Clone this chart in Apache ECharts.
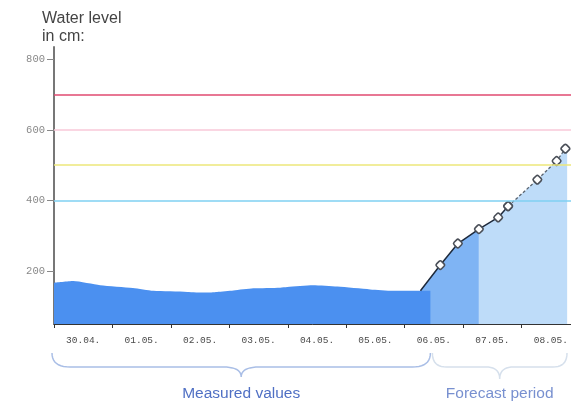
<!DOCTYPE html>
<html>
<head>
<meta charset="utf-8">
<script src="https://cdn.jsdelivr.net/npm/echarts@6/dist/echarts.min.js"></script>
<style>html,body{margin:0;padding:0;background:#fff}#c{width:571px;height:403px}</style>
</head>
<body>
<div id="c"></div>
<script>
// Categories (day labels)
const dayLabels = ['30.04.','01.05.','02.05.','03.05.','04.05.','05.05.','06.05.','07.05.','08.05.'];
// Measured values: time in days from 30.04. 00:00, level in cm
const measDays   = [0.00,0.33,0.79,1.35,1.70,2.28,2.59,2.79,3.07,3.41,3.87,3.99,4.43,4.85,5.41,5.80,6.27,6.44];
const measLevels = [167, 172, 160, 152, 144, 141, 139, 141, 145, 151, 153, 155, 160, 156, 148, 144, 144, 144];
// Forecast values
const fcDays   = [6.27,6.61,6.91,7.27,7.60,7.77,8.27,8.60,8.75];
const fcLevels = [144, 217, 278, 319, 352, 384, 459, 512, 547];
// Forecast shading end
const shadeEndDay = 8.78, shadeEndLevel = 553;
// Threshold levels
const thresholds = [700, 600, 500, 400];
const thresholdColors = ['#e04a70', '#f9c9d8', '#ede77a', '#7fd0f2'];
// Y tick labels
const yTicks = [200, 400, 600, 800];

const pairs = (xs, ys) => xs.map((x, i) => [x, ys[i]]);
const meas = pairs(measDays, measLevels);
const fc = pairs(fcDays, fcLevels);
const splitIdx = 3;   // medium/light shading boundary
const dashIdx = 5;    // solid/dashed line boundary

const chart = echarts.init(document.getElementById('c'), null, {renderer: 'canvas'});
const markerStyle = {color: '#fff', borderColor: '#4a4f58', borderWidth: 1.6};
const option = {
  animation: false,
  backgroundColor: '#fff',
  title: {
    text: 'Water level\nin cm:',
    left: 42, top: 10, padding: 0,
    textStyle: {fontFamily: 'Liberation Sans', fontSize: 16, fontWeight: 'normal', color: '#444', lineHeight: 17.5}
  },
  grid: {left: 54, width: 526, top: 47, bottom: 79, outerBoundsMode: 'none', containLabel: false},
  xAxis: [{
    type: 'value', min: 0, max: 9, interval: 1,
    axisLine: {show: true, lineStyle: {color: '#333', width: 1}},
    axisTick: {show: true, length: 4, lineStyle: {color: '#333'}},
    axisLabel: {show: false},
    splitLine: {show: false}
  }, {
    type: 'category', data: dayLabels, boundaryGap: true, position: 'bottom',
    axisLine: {show: false}, axisTick: {show: false}, splitLine: {show: false},
    axisLabel: {fontFamily: 'Liberation Mono', fontSize: 9.5, color: '#4a4a4a', margin: 11}
  }],
  yAxis: {
    type: 'value', min: 50, max: 835,
    axisLine: {show: true, lineStyle: {color: '#777', width: 2}},
    axisTick: {show: true, length: 7, lineStyle: {color: '#888'}, customValues: yTicks},
    axisLabel: {fontFamily: 'Liberation Mono', fontSize: 10.5, color: '#888', margin: 9, customValues: yTicks},
    splitLine: {show: false}
  },
  series: [
    {
      type: 'line', name: 'fcMedium', data: fc.slice(0, splitIdx + 1), symbol: 'none',
      lineStyle: {width: 0}, areaStyle: {color: '#7fb4f4', opacity: 1, origin: 'start'}, z: 1
    },
    {
      type: 'line', name: 'fcLight', data: fc.slice(splitIdx).concat([[shadeEndDay, shadeEndLevel]]), symbol: 'none',
      lineStyle: {width: 0}, areaStyle: {color: '#bedcf9', opacity: 1, origin: 'start'}, z: 1
    },
    {
      type: 'line', name: 'measured', data: meas, symbol: 'none', smooth: 0.2,
      lineStyle: {width: 0}, areaStyle: {color: '#4b90f0', opacity: 1, origin: 'start'}, z: 2
    },
    {
      type: 'line', name: 'thresholds', data: [], z: 3,
      markLine: {
        silent: true, symbol: 'none', label: {show: false}, animation: false,
        data: thresholds.map((v, i) => ({yAxis: v, lineStyle: {color: thresholdColors[i], width: 1.5, type: 'solid'}}))
      }
    },
    {
      type: 'line', name: 'fcSolid', z: 4,
      data: fc.slice(0, dashIdx + 1).map((p, i) => i === 0 ? {value: p, symbol: 'none'} : p),
      lineStyle: {color: '#1e2a3c', width: 1.5},
      symbol: 'roundRect', symbolSize: 7, symbolRotate: 45, itemStyle: markerStyle
    },
    {
      type: 'line', name: 'fcDashed', data: fc.slice(dashIdx), z: 4,
      lineStyle: {color: '#5a6470', width: 1.3, type: [3, 2]},
      symbol: 'roundRect', symbolSize: 7, symbolRotate: 45, itemStyle: markerStyle
    }
  ]
};
chart.setOption(option);

// annotation braces (sampled as polylines)
function quad(p0, p1, p2, n) {
  const out = [];
  for (let i = 0; i <= n; i++) {
    const t = i / n, u = 1 - t;
    out.push([u*u*p0[0] + 2*u*t*p1[0] + t*t*p2[0], u*u*p0[1] + 2*u*t*p1[1] + t*t*p2[1]]);
  }
  return out;
}
function brace(x1, x2, y0, y1, y2, r) {
  const xm = (x1 + x2) / 2;
  return [].concat(
    quad([x1, y0], [x1, y1], [x1 + r, y1], 10),
    quad([xm - r, y1], [xm, y1], [xm, y2], 10),
    quad([xm, y2], [xm, y1], [xm + r, y1], 10),
    quad([x2 - r, y1], [x2, y1], [x2, y0], 10)
  );
}
const px = d => chart.convertToPixel({xAxisIndex: 0}, d);
const mx1 = px(0) - 2, mx2 = px(measDays[measDays.length - 1]);
const fx1 = mx2 + 2, fx2 = Math.min(px(shadeEndDay), 567);
chart.setOption({
  graphic: [
    {type: 'polyline', shape: {points: brace(mx1, mx2, 353, 367, 377, 18)}, style: {fill: null, stroke: '#a9bee6', lineWidth: 1.5}},
    {type: 'polyline', shape: {points: brace(fx1, fx2, 353, 367, 379, 14)}, style: {fill: null, stroke: '#d6e0ec', lineWidth: 1.5}},
    {type: 'text', x: (mx1 + mx2) / 2, y: 394, style: {text: 'Measured values', fill: '#5070c4', font: '15.5px "Liberation Sans"', textAlign: 'center', textVerticalAlign: 'middle'}},
    {type: 'text', x: (fx1 + fx2) / 2, y: 394, style: {text: 'Forecast period', fill: '#7890d0', font: '15.5px "Liberation Sans"', textAlign: 'center', textVerticalAlign: 'middle'}}
  ]
});
</script>
</body>
</html>
